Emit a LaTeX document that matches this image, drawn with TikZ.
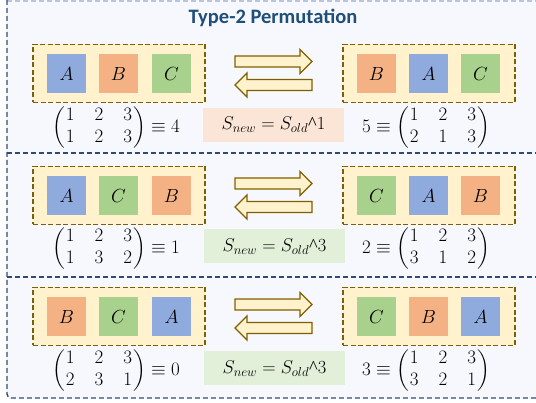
\RequirePackage{fix-cm}
\documentclass[tikz,border=0pt]{standalone}
\usepackage{amsmath}
\usepackage{fontspec}
\newfontfamily\titlefont{Carlito}
\newfontfamily\caretfont{Liberation Serif}
\definecolor{frameblue}{HTML}{2F4B7A}
\definecolor{lightframe}{HTML}{B8C4DA}
\definecolor{panelbg}{HTML}{F7F8FD}
\definecolor{boxfill}{HTML}{FFF2CC}
\definecolor{boxline}{HTML}{7F6000}
\definecolor{cA}{HTML}{8FAADC}
\definecolor{cB}{HTML}{F4B183}
\definecolor{cC}{HTML}{A9D18E}
\definecolor{peach}{HTML}{FBE5D6}
\definecolor{lgreen}{HTML}{E2F0D9}
\definecolor{titleblue}{HTML}{1F4E79}
\newcommand\mymat[2]{\left(\begin{array}{@{\hspace{1pt}}c@{\hspace{20pt}}c@{\hspace{20pt}}c@{\hspace{1pt}}}#1\\#2\end{array}\right)}
\newcommand\caret{{\caretfont\symbol{94}}}
\tikzset{
  holder/.style={draw=boxline, line width=1.6pt, dash pattern=on 5pt off 2.5pt, fill=boxfill, minimum width=172pt, minimum height=58pt, inner sep=0pt},
  sq/.style={minimum width=39pt, minimum height=39pt, inner sep=0pt, font=\fontsize{19}{22}\selectfont},
  sqA/.style={sq, fill=cA},
  sqB/.style={sq, fill=cB},
  sqC/.style={sq, fill=cC},
  lbl/.style={minimum width=141pt, minimum height=34pt, inner sep=0pt, font=\fontsize{18.5}{22}\selectfont},
  mtx/.style={inner sep=0pt, font=\fontsize{19}{22}\selectfont},
  arr/.style={draw=boxline, line width=1.3pt, fill=boxfill, line join=miter},
  sep/.style={draw=frameblue, line width=1.4pt, dash pattern=on 5pt off 3pt},
}
\newcommand\rowarrows[1]{%
  \draw[arr] (235,{#1-12-5.5}) -- (300,{#1-12-5.5}) -- (300,{#1-12-12}) -- (312,{#1-12}) -- (300,{#1-12+12}) -- (300,{#1-12+5.5}) -- (235,{#1-12+5.5}) -- cycle;
  \draw[arr] (312,{#1+11.5-5.5}) -- (247,{#1+11.5-5.5}) -- (247,{#1+11.5-12}) -- (235,{#1+11.5}) -- (247,{#1+11.5+12}) -- (247,{#1+11.5+5.5}) -- (312,{#1+11.5+5.5}) -- cycle;
}
\begin{document}
\begin{tikzpicture}[x=1pt,y=-1pt]
\useasboundingbox (0,0) rectangle (536,403);
% panel background and frame
\fill[panelbg] (7,0) rectangle (536,398);
\draw[lightframe, line width=1.4pt, dash pattern=on 5pt off 3pt] (7,1) -- (536,1);
\draw[sep, rounded corners=4pt] (7,0) -- (7,398) -- (536,398);
\draw[sep] (7,153) -- (536,153);
\draw[sep] (7,277) -- (536,277);
% title
\node[font=\titlefont\bfseries\fontsize{20.5}{24}\selectfont, text=titleblue] (title) at (273,18) {Type-2 Permutation};

% ---------- row 1 ----------
\node[holder] (L1) at (119,73.5) {};
\node[holder] (R1) at (429,73.5) {};
\node[sqA] (L1a) at (66.5,74) {$A$};
\node[sqB] (L1b) at (118.5,74) {$B$};
\node[sqC] (L1c) at (171.5,74) {$C$};
\node[sqB] (R1a) at (376.5,74) {$B$};
\node[sqA] (R1b) at (428.5,74) {$A$};
\node[sqC] (R1c) at (480.5,74) {$C$};
\rowarrows{73.5}
\node[lbl, fill=peach] (S1) at (273.5,125) {$S_{new}=S_{old}$\caret 1};
\node[mtx] (M1l) at (116,127.5) {$\mymat{1&2&3}{1&2&3}\equiv 4$};
\node[mtx] (M1r) at (426,127.5) {$5\equiv\mymat{1&2&3}{2&1&3}$};

% ---------- row 2 ----------
\node[holder] (L2) at (119,195.5) {};
\node[holder] (R2) at (429,195.5) {};
\node[sqA] (L2a) at (66.5,196) {$A$};
\node[sqC] (L2b) at (118.5,196) {$C$};
\node[sqB] (L2c) at (171.5,196) {$B$};
\node[sqC] (R2a) at (376.5,196) {$C$};
\node[sqA] (R2b) at (428.5,196) {$A$};
\node[sqB] (R2c) at (480.5,196) {$B$};
\rowarrows{195.5}
\node[lbl, fill=lgreen] (S2) at (274.5,246.5) {$S_{new}=S_{old}$\caret 3};
\node[mtx] (M2l) at (116,248.5) {$\mymat{1&2&3}{1&3&2}\equiv 1$};
\node[mtx] (M2r) at (426,248.5) {$2\equiv\mymat{1&2&3}{3&1&2}$};

% ---------- row 3 ----------
\node[holder] (L3) at (119,316.5) {};
\node[holder] (R3) at (429,316.5) {};
\node[sqB] (L3a) at (66.5,317) {$B$};
\node[sqC] (L3b) at (118.5,317) {$C$};
\node[sqA] (L3c) at (171.5,317) {$A$};
\node[sqC] (R3a) at (376.5,317) {$C$};
\node[sqB] (R3b) at (428.5,317) {$B$};
\node[sqA] (R3c) at (480.5,317) {$A$};
\rowarrows{316.5}
\node[lbl, fill=lgreen] (S3) at (274.5,368.5) {$S_{new}=S_{old}$\caret 3};
\node[mtx] (M3l) at (116,370.5) {$\mymat{1&2&3}{2&3&1}\equiv 0$};
\node[mtx] (M3r) at (426,370.5) {$3\equiv\mymat{1&2&3}{3&2&1}$};
\end{tikzpicture}
\end{document}
